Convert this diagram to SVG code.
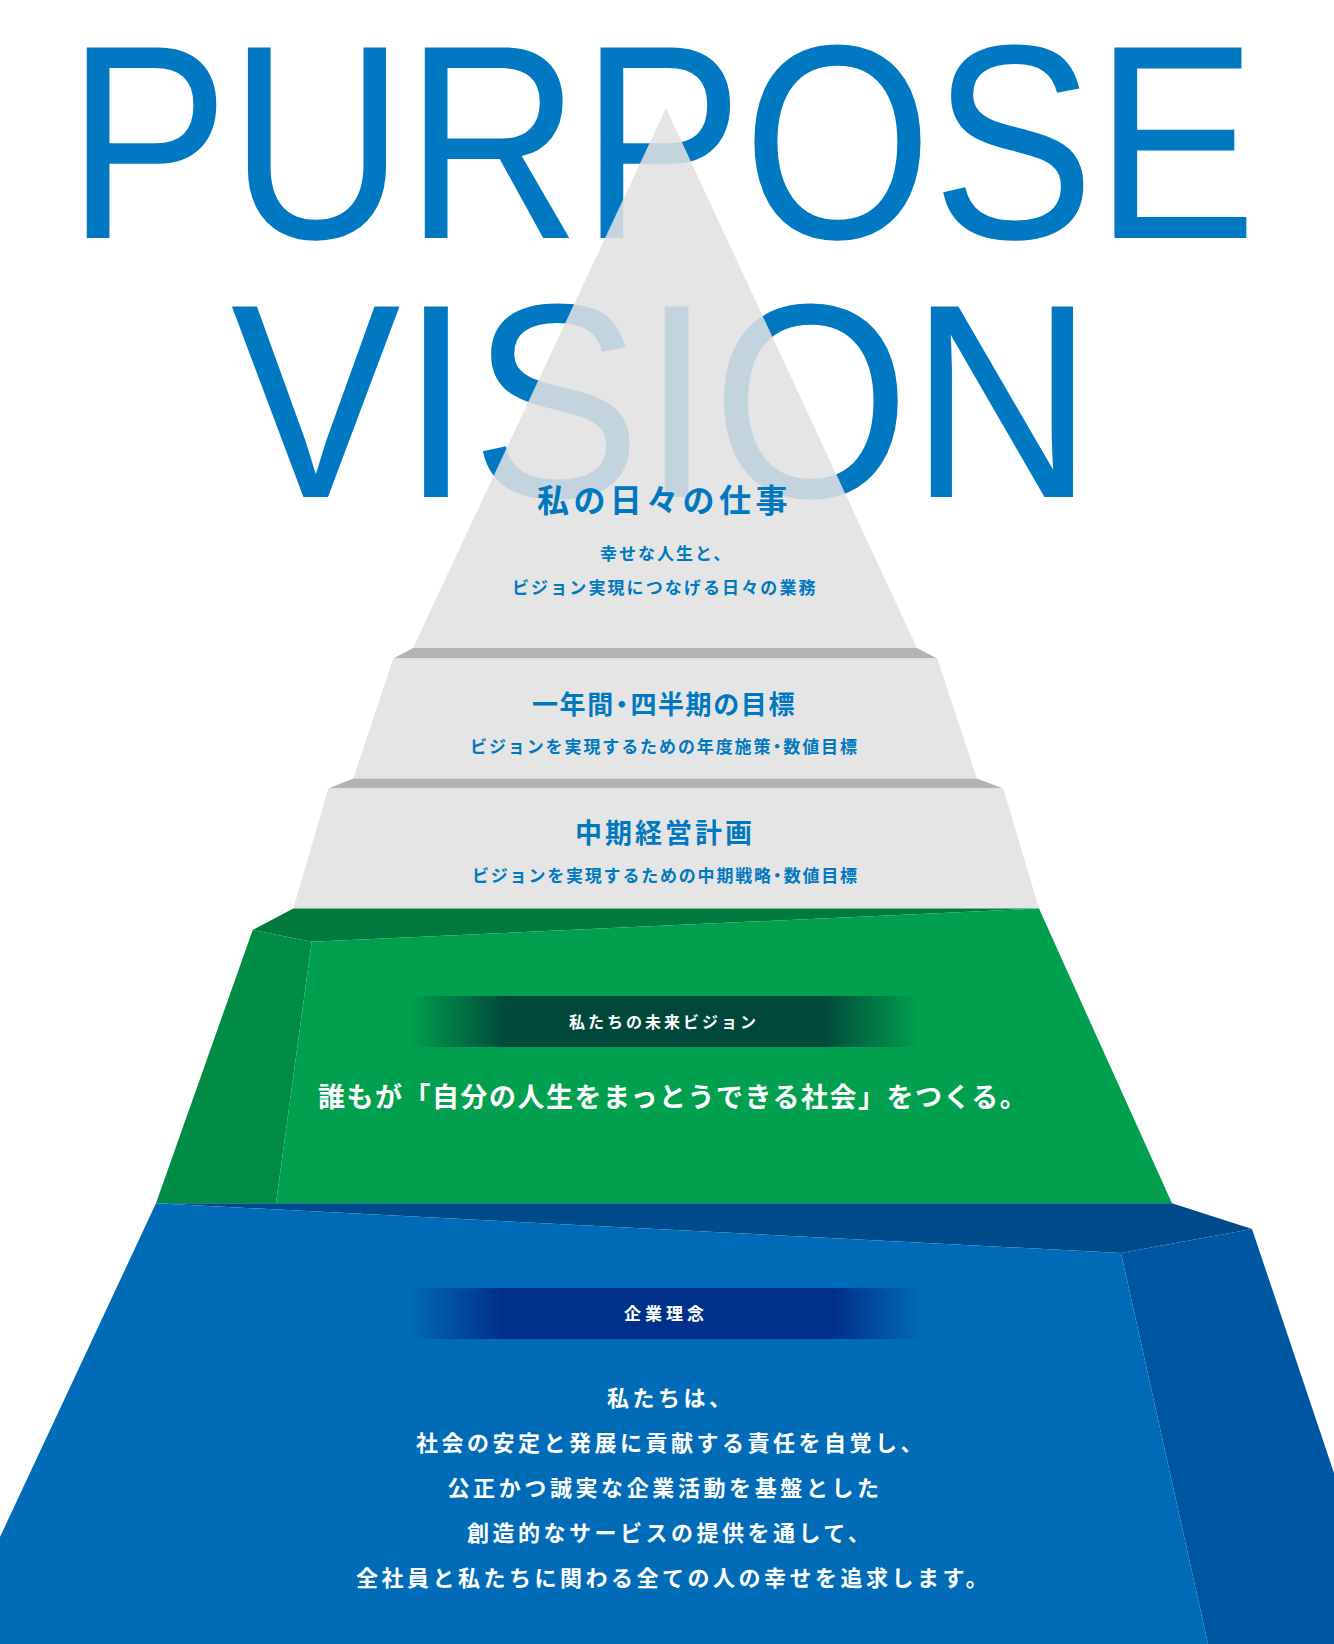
<svg xmlns="http://www.w3.org/2000/svg" width="1334" height="1644" viewBox="0 0 1334 1644">
<style>
.big{font-family:"Liberation Sans",Arial,sans-serif;font-size:277px;fill:url(#tp)}
.jp{font-family:"Noto Sans CJK JP",sans-serif;font-weight:700}
.bl{fill:#0078c0}
.wh{fill:#ffffff}
.gray{fill:#e5e5e5}
.ledge{fill:#b3b3b3}
</style>
<defs>
<pattern id="tp" patternUnits="userSpaceOnUse" x="0" y="0" width="1334" height="1644">
<rect width="1334" height="1644" fill="#0079c2"/>
<polygon points="666,108 917,648 413,648" fill="#c3d4df"/>
</pattern>
<linearGradient id="gband" x1="0" y1="0" x2="1" y2="0">
<stop offset="0" stop-color="#00483a" stop-opacity="0"/>
<stop offset="0.19" stop-color="#00483a" stop-opacity="1"/>
<stop offset="0.81" stop-color="#00483a" stop-opacity="1"/>
<stop offset="1" stop-color="#00483a" stop-opacity="0"/>
</linearGradient>
<linearGradient id="bband" x1="0" y1="0" x2="1" y2="0">
<stop offset="0" stop-color="#00318a" stop-opacity="0"/>
<stop offset="0.18" stop-color="#00318a" stop-opacity="1"/>
<stop offset="0.83" stop-color="#00318a" stop-opacity="1"/>
<stop offset="1" stop-color="#00318a" stop-opacity="0"/>
</linearGradient>
</defs>
<rect width="1334" height="1644" fill="#ffffff"/>

<g id="tier-daily-shape">
<polygon class="gray" points="666,108 917,648 413,648"/>
</g>

<g id="title">
<text class="big" x="66.8" y="238" textLength="1190" lengthAdjust="spacingAndGlyphs">PURPOSE</text>
<text class="big" x="230.8" y="497" textLength="863" lengthAdjust="spacingAndGlyphs">VISION</text>
</g>

<g id="tier-daily">
<text class="jp bl" x="537" y="512" font-size="32" letter-spacing="4.4">私の日々の仕事</text>
<text class="jp bl" x="600" y="559.5" font-size="17" letter-spacing="2">幸せな人生と、</text>
<text class="jp bl" x="512" y="593.5" font-size="17" letter-spacing="2.1">ビジョン実現につなげる日々の業務</text>
</g>

<g id="tier-annual">
<polygon class="ledge" points="413,648 917,648 937.3,658.5 393.3,658.5"/>
<polygon class="gray" points="393.3,658.5 937.3,658.5 977,778.5 353.3,778.5"/>
<text class="jp bl" x="532" y="714" font-size="26" letter-spacing="1.6">一年間<tspan dx="-6">・</tspan><tspan dx="-6">四半期の目標</tspan></text>
<text class="jp bl" x="470" y="752.5" font-size="17" letter-spacing="1.9">ビジョンを実現するための年度施策<tspan dx="-4">・</tspan><tspan dx="-4">数値目標</tspan></text>
</g>

<g id="tier-midterm">
<polygon class="ledge" points="353.3,778.5 977,778.5 1003.3,788.5 328.3,788.5"/>
<polygon class="gray" points="328.3,788.5 1003.3,788.5 1039,908.5 293.3,908.5"/>
<text class="jp bl" x="575" y="843" font-size="27" letter-spacing="3">中期経営計画</text>
<text class="jp bl" x="472" y="881.5" font-size="17" letter-spacing="1.8">ビジョンを実現するための中期戦略<tspan dx="-4">・</tspan><tspan dx="-4">数値目標</tspan></text>
</g>

<g id="tier-vision">
<polygon fill="#007a3d" points="293.3,908.5 1039,908.5 311.7,941.7 252.7,930"/>
<polygon fill="#008c44" points="252.7,930 311.7,941.7 276,1203.3 156,1203.3"/>
<polygon fill="#00a04e" points="311.7,941.7 1039,908.5 1172,1203.3 276,1203.3"/>
<rect x="410" y="996" width="509" height="51" fill="url(#gband)"/>
<text class="jp wh" x="569" y="1028" font-size="16" letter-spacing="3">私たちの未来ビジョン</text>
<text class="jp wh" x="318" y="1107" font-size="27" letter-spacing="1.5">誰もが「自分の人生をまっとうできる社会」をつくる。</text>
</g>

<g id="tier-philosophy">
<polygon fill="#004b8c" points="156,1203.3 1172,1203.3 1252,1229 1121,1253"/>
<polygon fill="#0057a1" points="1252,1229 1334,1473 1334,1644 1208,1644 1121,1253"/>
<polygon fill="#006cb7" points="156,1203.3 1121,1253 1208,1644 0,1644 0,1537"/>
<rect x="408" y="1288" width="515" height="51" fill="url(#bband)"/>
<text class="jp wh" x="624" y="1320" font-size="17" letter-spacing="4">企業理念</text>
<text class="jp wh" x="607" y="1406" font-size="22" letter-spacing="3.5">私たちは、</text>
<text class="jp wh" x="416" y="1451" font-size="22" letter-spacing="3.5">社会の安定と発展に貢献する責任を自覚し、</text>
<text class="jp wh" x="447.5" y="1496" font-size="22" letter-spacing="3.6">公正かつ誠実な企業活動を基盤とした</text>
<text class="jp wh" x="467" y="1541" font-size="22" letter-spacing="3.5">創造的なサービスの提供を通して、</text>
<text class="jp wh" x="356" y="1586" font-size="22" letter-spacing="3.5">全社員と私たちに関わる全ての人の幸せを追求します。</text>
</g>

<g id="connectors"></g>
</svg>
